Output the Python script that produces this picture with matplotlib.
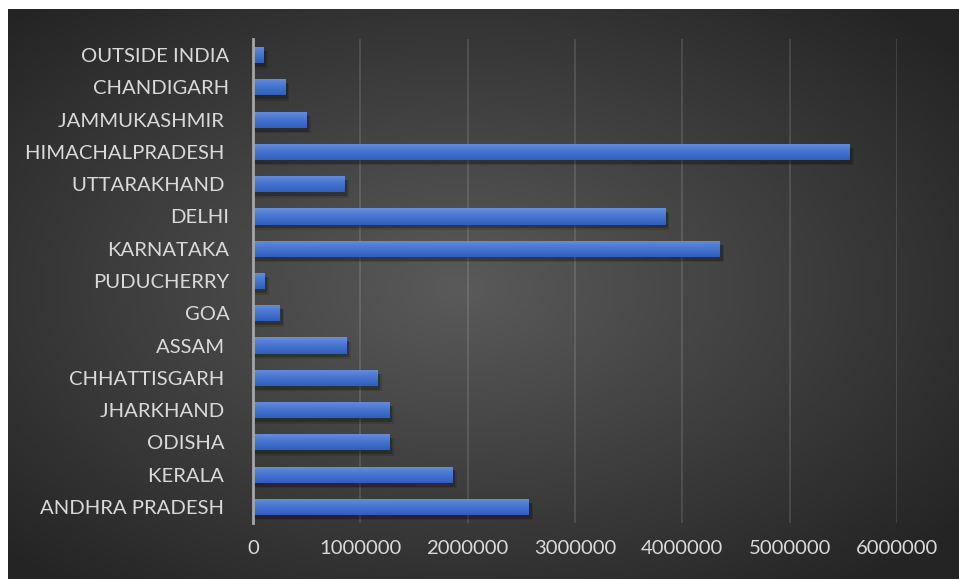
import numpy as np
import matplotlib
matplotlib.use("Agg")
import matplotlib.pyplot as plt
from matplotlib.colors import LinearSegmentedColormap

# states from top of chart to bottom
states = [
    "OUTSIDE INDIA", "CHANDIGARH", "JAMMUKASHMIR ", "HIMACHALPRADESH ",
    "UTTARAKHAND ", "DELHI", "KARNATAKA", "PUDUCHERRY", "GOA", "ASSAM ",
    "CHHATTISGARH ", "JHARKHAND ", "ODISHA ", "KERALA ", "ANDHRA PRADESH ",
]
counts = [
    100000, 300000, 500000, 5560000,
    855000, 3840000, 4350000, 105000, 250000, 870000,
    1160000, 1270000, 1270000, 1860000, 2570000,
]
xticks = [0, 1000000, 2000000, 3000000, 4000000, 5000000, 6000000]

W, H = 959, 579
fig = plt.figure(figsize=(W / 100, H / 100), dpi=100)
fig.patch.set_facecolor("white")

# radial dark-grey backdrop
bg = fig.add_axes([8 / W, 0, (W - 8) / W, (H - 9) / H])
gx, gy = np.meshgrid(np.linspace(-1, 1, 400), np.linspace(-1, 1, 260))
r = np.sqrt((gx + 0.05) ** 2 + (gy + 0.02) ** 2)
shade = np.clip(1 - r / 1.35, 0, 1)
bg_cmap = LinearSegmentedColormap.from_list("bg", ["#242424", "#5a5a5a"])
bg.imshow(shade, cmap=bg_cmap, aspect="auto", vmin=0, vmax=1)
bg.axis("off")

ax = fig.add_axes([253 / W, (H - 523) / H, (897 - 253) / W, (523 - 39) / H])
ax.set_facecolor("none")

n = len(states)
ypos = np.arange(n)
bar_h = 0.5

# soft drop shadow under each bar
for k, a in [(0, 0.22), (1, 0.12)]:
    ax.barh(ypos + 0.12 + 0.03 * k, np.array(counts) + 25000 + 15000 * k,
            height=bar_h + 0.04 * k, left=0, color="black", alpha=a,
            linewidth=0, zorder=2)

bars = ax.barh(ypos, counts, height=bar_h, color="#4472c4", linewidth=0, zorder=3)

# vertical gradient inside each bar
bar_cmap = LinearSegmentedColormap.from_list("bar", ["#6690dc", "#4674cf", "#2f5fbd"])
grad = np.linspace(0, 1, 64).reshape(-1, 1)
for b in bars:
    x0, y0 = b.get_x(), b.get_y()
    im = ax.imshow(grad, cmap=bar_cmap, aspect="auto", zorder=4,
                   extent=[x0, x0 + b.get_width(), y0 + b.get_height(), y0],
                   origin="upper")
    im.set_clip_path(b)

ax.set_xlim(0, 6000000)
ax.set_ylim(n - 0.5, -0.5)

ax.set_xticks(xticks)
ax.set_xticklabels([str(v) for v in xticks])
ax.set_yticks(ypos)
ax.set_yticklabels(states)

font = ["Lato", "DejaVu Sans"]
for lab in ax.get_yticklabels() + ax.get_xticklabels():
    lab.set_family(font)
    lab.set_fontsize(14.6)
    lab.set_color("#d9d9d9")

ax.tick_params(axis="y", length=0, pad=17)
ax.tick_params(axis="x", length=0, pad=12)

ax.grid(axis="x", color="white", alpha=0.12, linewidth=1.4, zorder=0)
ax.set_axisbelow(True)
for s in ["top", "right", "bottom"]:
    ax.spines[s].set_visible(False)
ax.spines["left"].set_color("#a6a6a6")
ax.spines["left"].set_linewidth(2)
ax.spines["left"].set_zorder(5)

fig.savefig("out.png", dpi=100)
